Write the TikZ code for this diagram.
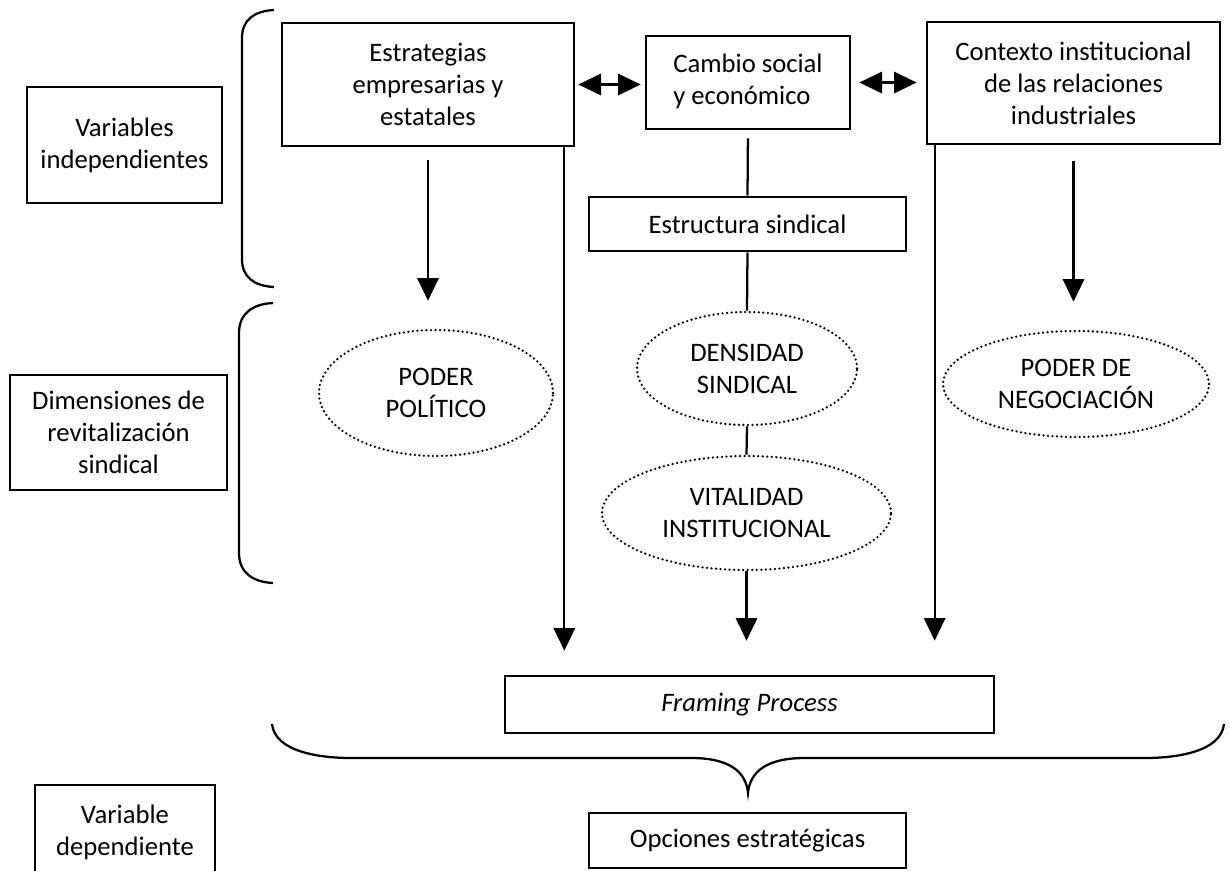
\documentclass[tikz,border=0pt]{standalone}
\usepackage{fontspec}
\setmainfont{Carlito}
\usetikzlibrary{arrows.meta,shapes.geometric}
\tikzset{>={Triangle[length=17pt,width=16pt]},
  caja/.style={draw,line width=2pt,align=center,inner sep=0pt},
  elipse/.style={ellipse,draw,line width=1.9pt,dash pattern=on 0pt off 3.4pt,
    line cap=round,align=center,inner sep=0pt},
  flecha/.style={->,line width=1.7pt},
  linea/.style={line width=1.7pt}}

\begin{document}
\begin{tikzpicture}[x=0.75pt,y=-0.75pt,font=\fontsize{20}{24}\selectfont]
  \useasboundingbox (0,0) rectangle (1229,871);
  \clip (0,0) rectangle (1229,871);
  \node[caja,minimum width=219pt,minimum height=92.25pt] (est) at (428,84.5)
    {Estrategias\\empresarias y\\estatales};
  \node[caja,minimum width=153pt,minimum height=69.75pt] (cambio) at (748,82.5)
    {\begin{tabular}{@{}l@{}}Cambio social\\y económico\end{tabular}};
  \node[caja,minimum width=219.75pt,minimum height=91.5pt] (contexto) at (1073.5,83)
    {Contexto institucional\\de las relaciones\\industriales};
  \node[caja,minimum width=237.75pt,minimum height=40.5pt] (estructura) at (747.5,224)
    {Estructura sindical};
  \node[elipse,minimum width=175.5pt,minimum height=94.5pt] (pp) at (436,393)
    {PODER\\POLÍTICO};
  \node[elipse,minimum width=165pt,minimum height=84.75pt] (dens) at (747,368.5)
    {DENSIDAD\\SINDICAL};
  \node[elipse,minimum width=216.75pt,minimum height=85.5pt] (vital) at (746.5,513)
    {VITALIDAD\\INSTITUCIONAL};
  \node[elipse,minimum width=199.5pt,minimum height=79.5pt] (pn) at (1076,384)
    {PODER DE\\NEGOCIACIÓN};
  \node[caja,minimum width=366.75pt,minimum height=42.75pt] (frame) at (749.5,704.5)
    {\itshape Framing Process};
  \node[caja,minimum width=237.75pt,minimum height=41.25pt] (opciones) at (747.5,840.5)
    {Opciones estratégicas};
  \node[caja,minimum width=146.25pt,minimum height=87pt] (vi) at (124.5,145)
    {Variables\\independientes};
  \node[caja,minimum width=162.75pt,minimum height=86.25pt] (dim) at (118.5,432.5)
    {Dimensiones de\\revitalización\\sindical};
  \node[caja,minimum width=135pt,minimum height=71.25pt] (vd) at (125,832.5)
    {Variable\\dependiente};
  \draw[<->,linea,shorten <=2.25pt,shorten >=3pt] (est.east) -- (est.east -| cambio.west);
  \draw[<->,linea,shorten <=6pt,shorten >=6.75pt] (cambio.east) -- (cambio.east -| contexto.west);
  \draw[flecha,shorten <=9.75pt,shorten >=21pt] (est.south) -- (est.south |- pp.north);
  \draw[flecha,shorten <=12pt,shorten >=21pt] (contexto.south) -- (contexto.south |- pn.north);
  \coordinate (l1) at ([xshift=-8.25pt]est.south east);
  \coordinate (l2) at ([xshift=6.75pt]contexto.south west);
  \draw[flecha,shorten >=18pt] (l1) -- (l1 |- frame.north);
  \draw[flecha,shorten >=25.5pt] (l2) -- (l2 |- frame.north);
  \draw[linea,shorten <=6pt] (cambio.south) -- (estructura.north);
  \draw[linea] (estructura.south) -- (dens.north);
  \draw[linea] (dens.south) -- (vital.north);
  \draw[flecha,shorten >=25.5pt] (vital.south) -- (vital.south |- frame.north);
  \draw[linea] (274,10) .. controls (254,11) and (242,20) .. (242,38) -- (242,259)
    .. controls (242,277) and (254,286) .. (274,287);
  \draw[linea] (273,303) .. controls (252,304) and (239,314) .. (239,333) -- (239,553)
    .. controls (239,572) and (252,582) .. (273,583);
  \draw[linea] (272,724) .. controls (275,752) and (320,758) .. (351,758) -- (691,758)
    .. controls (730,758) and (746,772) .. (748,793)
    .. controls (750,772) and (766,758) .. (805,758) -- (1145,758)
    .. controls (1176,758) and (1221,752) .. (1224,724);
\end{tikzpicture}
\end{document}
